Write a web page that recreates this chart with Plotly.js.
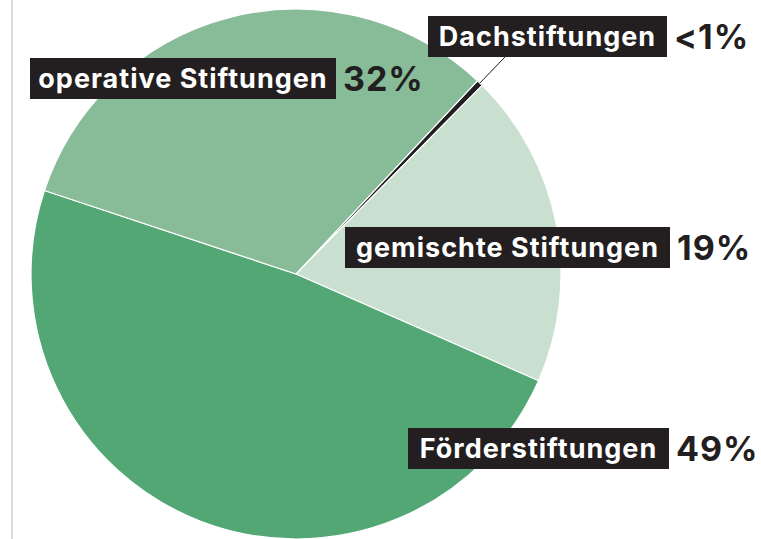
<!DOCTYPE html>
<html><head><meta charset="utf-8">
<script src="https://cdn.plot.ly/plotly-3.0.1.min.js"></script>
<style>html,body{margin:0;padding:0;background:#fff;}#chart{width:761px;height:539px;}
.annotation-text{letter-spacing:1px;}</style>
</head><body><div id="chart"></div>
<script>
// Data
const categories = ["Dachstiftungen", "gemischte Stiftungen", "Förderstiftungen", "operative Stiftungen"];
const values = [0.4, 19.2, 48.5, 31.9];
const valueLabels = ["<1%", "19%", "49%", "32%"];

// Styling / layout
const colors = ["#231f20", "#c9dfd0", "#52a775", "#88bc99"];
const W = 761, H = 539;
const cx = 296, cy = 274, R = 265;
const rotation = 43.2;
// label boxes: [left, right, top, bottom] in px
const boxes = [
  [428, 667, 16, 57],
  [345, 670, 227, 268],
  [408, 669, 428, 469],
  [30, 336, 58, 99]
];
const px = x => x / W;
const py = y => 1 - y / H;

const trace = {
  type: "pie",
  labels: categories,
  values: values,
  sort: false,
  direction: "clockwise",
  rotation: rotation,
  textinfo: "none",
  hoverinfo: "skip",
  showlegend: false,
  marker: { colors: colors, line: { color: "#ffffff", width: 1.2 } },
  domain: { x: [px(cx - R), px(cx + R)], y: [py(cy + R), py(cy - R)] }
};

const annotations = [];
categories.forEach((c, i) => {
  const b = boxes[i];
  annotations.push({
    xref: "paper", yref: "paper",
    x: px(b[1]), y: py((b[2] + b[3]) / 2),
    xanchor: "right", yanchor: "middle",
    text: c, showarrow: false,
    width: b[1] - b[0], height: b[3] - b[2],
    align: "center", valign: "middle",
    bgcolor: "#231f20", borderpad: 0, borderwidth: 0,
    font: { family: "Inter, 'Liberation Sans', sans-serif", size: 27, color: "#ffffff", weight: 700 }
  });
  annotations.push({
    xref: "paper", yref: "paper",
    x: px(b[1] + 5), y: py((b[2] + b[3]) / 2),
    xanchor: "left", yanchor: "middle",
    text: valueLabels[i], showarrow: false,
    font: { family: "Inter, 'Liberation Sans', sans-serif", size: 34, color: "#231f20", weight: 700 }
  });
});

// connector for the smallest slice, along its mid-angle
const total = values.reduce((a, b) => a + b, 0);
const mid = (rotation + values[0] / total * 180) * Math.PI / 180;
const shapes = [
  { type: "line", xref: "paper", yref: "paper", x0: px(12), x1: px(12), y0: 0, y1: 1,
    line: { color: "#dcdcdc", width: 2 } },
  { type: "line", xref: "paper", yref: "paper",
    x0: px(cx + R * Math.sin(mid)), y0: py(cy - R * Math.cos(mid)),
    x1: px(cx + (R + 37) * Math.sin(mid)), y1: py(cy - (R + 37) * Math.cos(mid)),
    line: { color: "#231f20", width: 1 } }
];

const layout = {
  width: W, height: H,
  margin: { l: 0, r: 0, t: 0, b: 0 },
  paper_bgcolor: "#ffffff",
  showlegend: false,
  annotations: annotations,
  shapes: shapes
};
Plotly.newPlot("chart", [trace], layout, { staticPlot: true, displayModeBar: false });
</script>
</body></html>
